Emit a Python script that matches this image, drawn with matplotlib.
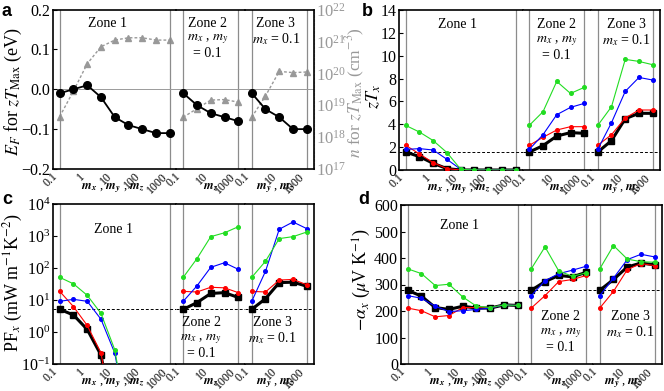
import numpy as np
import matplotlib.pyplot as plt
from matplotlib.ticker import NullLocator
from matplotlib.transforms import ScaledTranslation

plt.rcParams['font.family'] = ['Liberation Serif', 'DejaVu Serif']
plt.rcParams['mathtext.fontset'] = 'stix'

# effective mass values along x for each zone
m_zone1 = [0.1, 0.316, 1, 3.16, 10, 31.6, 100, 316, 1000]
m_zone23 = [0.1, 1, 10, 100, 1000]

# panel a: Fermi level and carrier density at zT max (zone1, zone2, zone3)
ef_max = [[-0.01, 0.0, 0.01, -0.02, -0.07, -0.09, -0.10, -0.11, -0.11],
          [-0.01, -0.04, -0.06, -0.07, -0.08],
          [-0.01, -0.05, -0.07, -0.10, -0.10]]
n_max = [[4.4e18, 2.8e19, 2.0e20, 6.8e20, 1.1e21, 1.3e21, 1.3e21, 1.1e21, 1.1e21],
         [4.2e18, 7.8e18, 1.45e19, 1.5e19, 1.25e19],
         [4.2e18, 1.95e19, 1.15e20, 1.05e20, 1.1e20]]

# panel b: zT_x
zt_black = [[1.57, 1.17, 0.58, 0.12, 0, 0, 0, 0, 0],
            [1.57, 2.13, 2.97, 3.27, 3.21],
            [1.57, 2.57, 4.49, 4.96, 4.96]]
zt_red = [[2.16, 1.40, 0.64, 0.12, 0, 0, 0, 0, 0],
          [2.16, 2.86, 3.50, 3.79, 3.79],
          [2.16, 3.09, 4.55, 5.25, 5.25]]
zt_blue = [[1.80, 1.87, 1.75, 0.93, 0.06, 0, 0, 0, 0],
           [1.80, 3.09, 4.84, 5.48, 5.83],
           [1.80, 4.14, 6.88, 8.10, 7.87]]
zt_green = [[3.90, 3.32, 2.57, 1.52, 0.06, 0, 0, 0, 0],
            [3.90, 5.10, 7.75, 6.70, 7.23],
            [3.90, 5.54, 9.68, 9.50, 9.21]]
zt_ref = 1.57

# panel c: power factor PF_x
pf_black = [[5.1, 3.4, 1.2, 0.19, 1e-3, 1e-3, 1e-3, 1e-3, 1e-3],
            [5.1, 8.3, 16, 17, 12],
            [5.1, 11, 35, 36, 27]]
pf_red = [[18.6, 6.2, 1.6, 0.22, 1e-3, 1e-3, 1e-3, 1e-3, 1e-3],
          [18.6, 17.8, 25, 24, 17],
          [18.6, 17.8, 42, 44, 30]]
pf_blue = [[9.1, 10.5, 9.1, 2.5, 0.22, 1e-3, 1e-3, 1e-3, 1e-3],
           [9.1, 27.7, 105, 146, 91],
           [9.1, 79, 1630, 2740, 1700]]
pf_green = [[51, 32, 14, 3.8, 0.28, 1e-3, 1e-3, 1e-3, 1e-3],
            [51, 197, 955, 1260, 1950],
            [51, 163, 830, 955, 1330]]
pf_ref = 5.1

# panel d: Seebeck coefficient -alpha_x
s_black = [[278, 256, 213, 206, 218, 211, 211, 223, 221],
           [278, 311, 334, 329, 346],
           [278, 319, 366, 381, 374]]
s_red = [[211, 201, 178, 183, 213, 213, 211, 223, 221],
         [211, 258, 311, 319, 334],
         [211, 274, 356, 379, 371]]
s_blue = [[258, 248, 218, 198, 201, 206, 211, 223, 221],
          [258, 314, 341, 354, 369],
          [258, 324, 394, 414, 404]]
s_green = [[359, 341, 296, 301, 253, 218, 213, 223, 221],
           [359, 442, 351, 331, 344],
           [359, 447, 396, 386, 384]]
s_ref = 278

W, H = 664, 391
ZONE_W = [123.5, 68.5, 68.5]
ZONE_XLIM = [(10 ** -1.245, 10 ** 3.245), (10 ** -1.49, 10 ** 3.49), (10 ** -1.49, 10 ** 3.49)]
XLAB = [r'$\mathbfit{m}_\mathbfit{x}$ , $\mathbfit{m}_\mathbfit{y}$ , $\mathbfit{m}_\mathbfit{z}$',
        r'$\mathbfit{m}_\mathbfit{z}$',
        r'$\mathbfit{m}_\mathbfit{y}$ , $\mathbfit{m}_\mathbfit{z}$']
XLAB_POS = [0.48, 0.5, 0.44]
GREEN = '#22dd22'

fig = plt.figure(figsize=(W / 100, H / 100), dpi=100)
shift = ScaledTranslation(0.05, 0, fig.dpi_scale_trans)


def hide_left(ax, i):
    if i > 0:
        ax.tick_params(axis='y', which='both', left=False, labelleft=False,
                       right=False, labelright=False)


def make_zones(left, top, height):
    axes = []
    x = left
    for i, w in enumerate(ZONE_W):
        ax = fig.add_axes([x / W, 1 - (top + height) / H, w / W, height / H])
        x += w
        ax.set_xscale('log')
        ax.set_xlim(*ZONE_XLIM[i])
        ax.xaxis.set_minor_locator(NullLocator())
        if i == 0:
            ticks, labels = [0.1, 1, 10, 100, 1000], ['0.1', '1', '10', '100', '1000']
        else:
            ticks, labels = [0.1, 10, 1000], ['0.1', '10', '1000']
        ax.set_xticks(ticks, labels, rotation=45, ha='right', va='top', fontsize=8.5)
        for lab in ax.get_xticklabels():
            lab.set_transform(lab.get_transform() + shift)
        ax.tick_params(axis='x', length=0, pad=1)
        for v in (0.1, 1000):
            ax.axvline(v, color='#8c8c8c', lw=0.9, zorder=0.5)
        for s in ax.spines.values():
            s.set_linewidth(1.2)
        if i > 0:
            ax.spines['left'].set_visible(False)
            hide_left(ax, i)
        else:
            ax.tick_params(axis='y', direction='in', length=3, labelsize=11.5, pad=2)
        if i < 2:
            ax.spines['right'].set_visible(False)
        ax.text(XLAB_POS[i], -19 / height, XLAB[i], transform=ax.transAxes,
                ha='center', va='center', fontsize=9)
        axes.append(ax)
    return axes


def zone_text(ax, x, y, s):
    ax.text(x, y, s, transform=ax.transAxes, ha='center', va='top',
            fontsize=10, linespacing=1.1)


def plot_four(axes, black, red, blue, green, ref, logy=False):
    for i, ax in enumerate(axes):
        m = m_zone1 if i == 0 else m_zone23
        ax.plot(m, black[i], color='k', lw=2.2, marker='s', ms=5, zorder=3)
        ax.plot(m, red[i], color='#ff0000', lw=0.8, marker='o', ms=2.6, zorder=4)
        ax.plot(m, blue[i], color='#0000ff', lw=0.8, marker='o', ms=2.6, zorder=4)
        ax.plot(m, green[i], color=GREEN, lw=0.8, marker='o', ms=2.6, zorder=4)
        ax.axhline(ref, color='k', lw=0.7, ls=(0, (3, 2)), zorder=2)
        if logy:
            ax.set_yscale('log')


# ---- panel a ----
axa = make_zones(53, 9.5, 159.5)
for i, ax in enumerate(axa):
    m = m_zone1 if i == 0 else m_zone23
    ax.set_ylim(-0.2, 0.2)
    ax.axhline(0, color='#9a9a9a', lw=0.7, zorder=0.5)
    tw = ax.twinx()
    hide_left(ax, i)
    tw.set_yscale('log')
    tw.set_ylim(1e17, 1e22)
    tw.plot(m, n_max[i], color='#999999', ls=(0, (2, 1.5)), lw=1.0, marker='^', ms=5)
    for s in tw.spines.values():
        s.set_visible(False)
    if i == 2:
        tw.set_yticks([1e17, 1e18, 1e19, 1e20, 1e21, 1e22])
        tw.yaxis.set_minor_locator(NullLocator())
        tw.spines['right'].set_visible(True)
        tw.spines['right'].set_color('#999999')
        tw.spines['right'].set_linestyle((0, (2, 1.5)))
        tw.tick_params(axis='y', colors='#999999', length=0, labelsize=12, pad=2)
    else:
        tw.yaxis.set_visible(False)
    ax.set_zorder(tw.get_zorder() + 1)
    ax.patch.set_visible(False)
    ax.plot(m, ef_max[i], color='k', lw=1.3, marker='o', ms=5.5, zorder=3)
axa[0].set_yticks([-0.2, -0.1, 0, 0.1, 0.2], ['\u22120.2', '\u22120.1', '0.0', '0.1', '0.2'])
zone_text(axa[0], 0.44, 0.955, 'Zone 1')
zone_text(axa[1], 0.45, 0.955, 'Zone 2\n$m_x$ , $m_y$\n= 0.1')
zone_text(axa[2], 0.45, 0.955, 'Zone 3\n$m_x$ = 0.1')

# ---- panel b ----
axb = make_zones(399, 10, 160)
plot_four(axb, zt_black, zt_red, zt_blue, zt_green, zt_ref)
for ax in axb:
    ax.set_ylim(0, 14)
axb[0].set_yticks(range(0, 15, 2))
zone_text(axb[0], 0.47, 0.95, 'Zone 1')
zone_text(axb[1], 0.5, 0.95, 'Zone 2\n$m_x$ , $m_y$\n= 0.1')
zone_text(axb[2], 0.52, 0.95, 'Zone 3\n$m_x$ = 0.1')

# ---- panel c ----
axc = make_zones(53, 204, 160)
plot_four(axc, pf_black, pf_red, pf_blue, pf_green, pf_ref, logy=True)
for ax in axc:
    ax.set_ylim(1e-1, 1e4)
    ax.yaxis.set_minor_locator(NullLocator())
axc[0].set_yticks([1e-1, 1, 1e1, 1e2, 1e3, 1e4])
zone_text(axc[0], 0.49, 0.88, 'Zone 1')
zone_text(axc[1], 0.36, 0.3, 'Zone 2\n$m_x$ , $m_y$\n= 0.1')
zone_text(axc[2], 0.4, 0.3, 'Zone 3\n$m_x$ = 0.1')

# ---- panel d ----
axd = make_zones(401, 205, 159)
plot_four(axd, s_black, s_red, s_blue, s_green, s_ref)
for ax in axd:
    ax.set_ylim(0, 600)
axd[0].set_yticks(range(0, 601, 100))
zone_text(axd[0], 0.47, 0.91, 'Zone 1')
zone_text(axd[1], 0.53, 0.34, 'Zone 2\n$m_x$ , $m_y$\n= 0.1')
zone_text(axd[2], 0.54, 0.34, 'Zone 3\n$m_x$ = 0.1')

# axis titles
fig.text(13 / W, 1 - 91 / H, r'$E_F$ for $zT_{\mathrm{Max}}$ (eV)', rotation=90,
         ha='center', va='center', fontsize=13)
fig.text(355 / W, 1 - 93 / H, r'$n$ for $zT_{\mathrm{Max}}$ (cm$^{-3}$)', rotation=90,
         ha='center', va='center', fontsize=12.5, color='#999999')
fig.text(374 / W, 1 - 97 / H, r'$zT_x$', rotation=90,
         ha='center', va='center', fontsize=13)
fig.text(13 / W, 1 - 283 / H, r'PF$_x$ (mW m$^{-1}$K$^{-2}$)', rotation=90,
         ha='center', va='center', fontsize=13)
fig.text(362 / W, 1 - 280 / H, r'$-\alpha_x$ ($\mu$V K$^{-1}$)', rotation=90,
         ha='center', va='center', fontsize=13)

# panel letters
for s, x, y in [('a', 2, 11), ('b', 362, 11), ('c', 2, 199), ('d', 358, 199)]:
    fig.text(x / W, 1 - y / H, s, fontsize=13, fontweight='bold',
             family='Liberation Sans', ha='left', va='center')

fig.savefig('out.png', dpi=100)
